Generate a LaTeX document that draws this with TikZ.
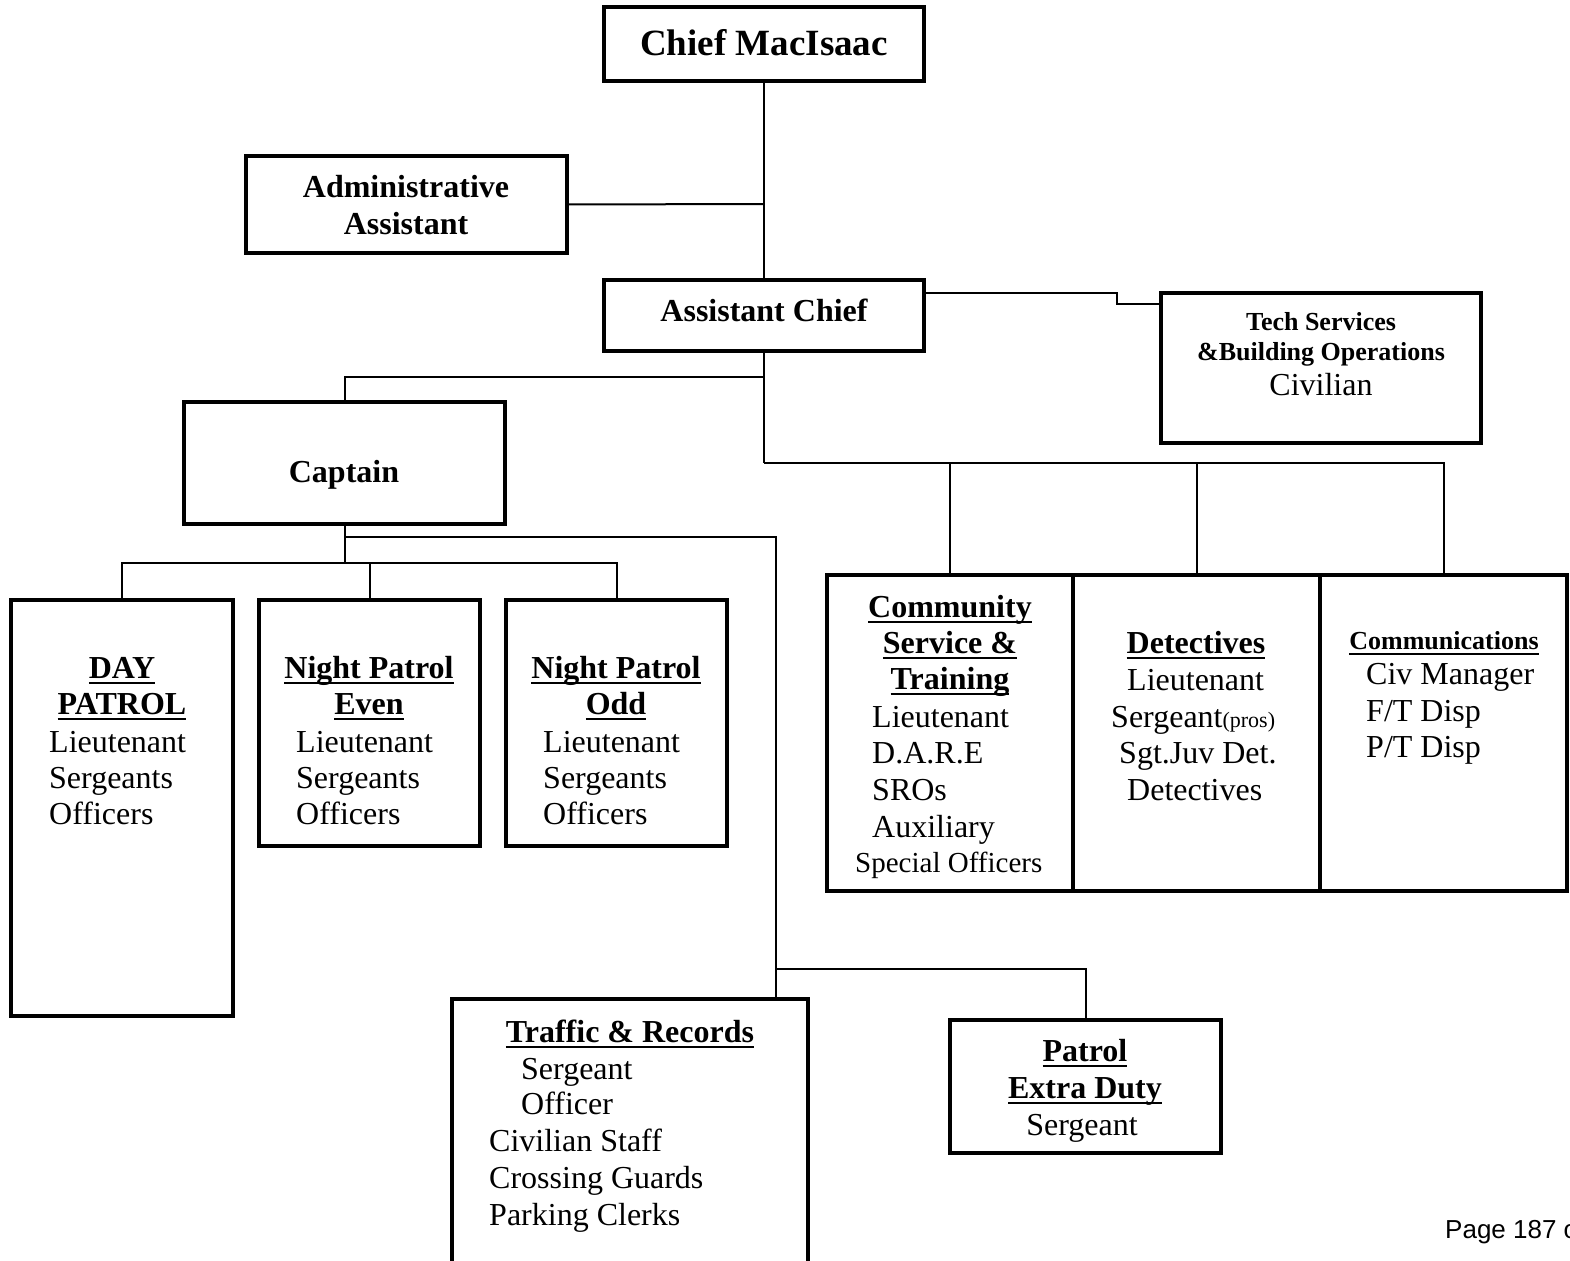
\documentclass[tikz,border=0pt]{standalone}
\usepackage{fontspec}
\setmainfont{Liberation Serif}
\newfontfamily\pagefont{Liberation Sans}
\newsavebox\ulinbox
% underline a word at a fixed depth below the baseline
\newcommand{\ulin}[1]{\sbox\ulinbox{#1}\mbox{\rlap{\rule[-6pt]{\wd\ulinbox}{2.5pt}}\usebox\ulinbox}}
\newcommand{\bodyf}{\fontsize{32}{36}\selectfont}
\newcommand{\headf}{\bfseries\fontsize{32}{36}\selectfont}
\newcommand{\smallheadf}{\bfseries\fontsize{26}{30}\selectfont}
\begin{document}
\begin{tikzpicture}[x=1pt,y=-1pt,
  box/.style={draw,line width=3.5pt,inner sep=0pt,outer sep=0pt},
  wire/.style={line width=2pt},
  lft/.style={inner sep=0pt,anchor=base west,font=\bodyf},
  mid/.style={inner sep=0pt,anchor=base,font=\bodyf},
  head/.style={inner sep=0pt,anchor=base,font=\headf}]
\useasboundingbox (0,0) rectangle (1570,1260);
\fill[white] (0,0) rectangle (1570,1260);

% boxes
\node[box,minimum width=320pt,minimum height=74pt] (chief) at (764,44) {};
\node[box,minimum width=321pt,minimum height=97pt] (admin) at (406.5,204.5) {};
\node[box,minimum width=320pt,minimum height=71pt] (asst) at (764,315.5) {};
\node[box,minimum width=320pt,minimum height=150pt] (tech) at (1321,368) {};
\node[box,minimum width=321pt,minimum height=122pt] (captain) at (344.5,463) {};
\node[box,minimum width=222pt,minimum height=416pt] (day) at (122,808) {};
\node[box,minimum width=221pt,minimum height=246pt] (npe) at (369.5,723) {};
\node[box,minimum width=221pt,minimum height=246pt] (npo) at (616.5,723) {};
\node[box,minimum width=246pt,minimum height=316pt] (cst) at (950,733) {};
\node[box,minimum width=247pt,minimum height=316pt] (det) at (1196.5,733) {};
\node[box,minimum width=247pt,minimum height=316pt] (comm) at (1443.5,733) {};
\node[box,minimum width=356pt,minimum height=281pt] (traffic) at (630,1139.5) {};
\node[box,minimum width=271pt,minimum height=133pt] (patrol) at (1085.5,1086.5) {};

% connectors
\coordinate (ja) at (764,204);
\coordinate (jc) at (764,377);
\coordinate (jr) at (764,463);
\coordinate (t1) at (1117,293);
\coordinate (t2) at (1117,304);
\coordinate (jp) at (344.5,563);
\coordinate (jt) at (344.5,537);
\coordinate (jt2) at (776,537);
\coordinate (je) at (776,969);
\draw[wire] (chief.south) -- (asst.north);
\draw[wire] (admin.east) -- (ja);
\draw[wire] (asst.east |- t1) -- (t1) -- (t2) -- (t2 -| tech.west);
\draw[wire] (asst.south) -- (jr);
\draw[wire] (jc) -| (captain.north);
\draw[wire] (jr) -| (comm.north);
\draw[wire] (jr -| cst.north) -- (cst.north);
\draw[wire] (jr -| det.north) -- (det.north);
\draw[wire] (captain.south) -- (jp);
\draw[wire] (jp) -| (day.north);
\draw[wire] (jp) -| (npo.north);
\draw[wire] (npe.north |- jp) -- (npe.north);
\draw[wire] (jt) -- (jt2) -- (jt2 |- traffic.north);
\draw[wire] (je) -| (patrol.north);

% texts
\node[inner sep=0pt,anchor=base,font=\bfseries\fontsize{37}{40}\selectfont] (chiefT) at (764,56) {Chief MacIsaac};
\node[head] (adminT1) at (406,197) {Administrative};
\node[head] (adminT2) at (406,234) {Assistant};
\node[head] (asstT) at (764,321) {Assistant Chief};
\node[inner sep=0pt,anchor=base,font=\smallheadf] (techT1) at (1321,330) {Tech Services};
\node[inner sep=0pt,anchor=base,font=\smallheadf] (techT2) at (1321,360) {\&Building Operations};
\node[mid] (techT3) at (1321,395) {Civilian};
\node[head] (capT) at (344,482) {Captain};

\node[head] (dayH1) at (122,678) {\ulin{DAY}};
\node[head] (dayH2) at (122,714) {\ulin{PATROL}};
\node[lft] (dayL1) at (49,752) {Lieutenant};
\node[lft] (dayL2) at (49,788) {Sergeants};
\node[lft] (dayL3) at (49,824) {Officers};

\node[head] (npeH1) at (369,678) {\ulin{Night Patrol}};
\node[head] (npeH2) at (369,714) {\ulin{Even}};
\node[lft] (npeL1) at (296,752) {Lieutenant};
\node[lft] (npeL2) at (296,788) {Sergeants};
\node[lft] (npeL3) at (296,824) {Officers};

\node[head] (npoH1) at (616,678) {\ulin{Night Patrol}};
\node[head] (npoH2) at (616,714) {\ulin{Odd}};
\node[lft] (npoL1) at (543,752) {Lieutenant};
\node[lft] (npoL2) at (543,788) {Sergeants};
\node[lft] (npoL3) at (543,824) {Officers};

\node[head] (cstH1) at (950,617) {\ulin{Community}};
\node[head] (cstH2) at (950,653) {\ulin{Service \&}};
\node[head] (cstH3) at (950,689) {\ulin{Training}};
\node[lft] (cstL1) at (872,727) {Lieutenant};
\node[lft] (cstL2) at (872,763) {D.A.R.E};
\node[lft] (cstL3) at (872,800) {SROs};
\node[lft] (cstL4) at (872,837) {Auxiliary};
\node[lft,font=\fontsize{29}{32}\selectfont] (cstL5) at (855,872) {Special Officers};

\node[head] (detH) at (1196,653) {\ulin{Detectives}};
\node[lft] (detL1) at (1127,690) {Lieutenant};
\node[lft] (detL2) at (1111,727) {Sergeant{\fontsize{22}{24}\selectfont(pros)}};
\node[lft] (detL3) at (1119,763) {Sgt.Juv Det.};
\node[lft] (detL4) at (1127,800) {Detectives};

\node[inner sep=0pt,anchor=base,font=\smallheadf] (commH) at (1444,649) {\ulin{Communications}};
\node[lft] (commL1) at (1366,684) {Civ Manager};
\node[lft] (commL2) at (1366,721) {F/T Disp};
\node[lft] (commL3) at (1366,757) {P/T Disp};

\node[head] (trafH) at (630,1042) {\ulin{Traffic \& Records}};
\node[lft] (trafL1) at (521,1079) {Sergeant};
\node[lft] (trafL2) at (521,1114) {Officer};
\node[lft] (trafL3) at (489,1151) {Civilian Staff};
\node[lft] (trafL4) at (489,1188) {Crossing Guards};
\node[lft] (trafL5) at (489,1225) {Parking Clerks};

\node[head] (patH1) at (1085,1061) {\ulin{Patrol}};
\node[head] (patH2) at (1085,1098) {\ulin{Extra Duty}};
\node[mid] (patL1) at (1082,1135) {Sergeant};

\node[inner sep=0pt,anchor=base west,font=\pagefont\fontsize{26}{30}\selectfont] (page) at (1445,1238) {Page 187 of};
\end{tikzpicture}
\end{document}
